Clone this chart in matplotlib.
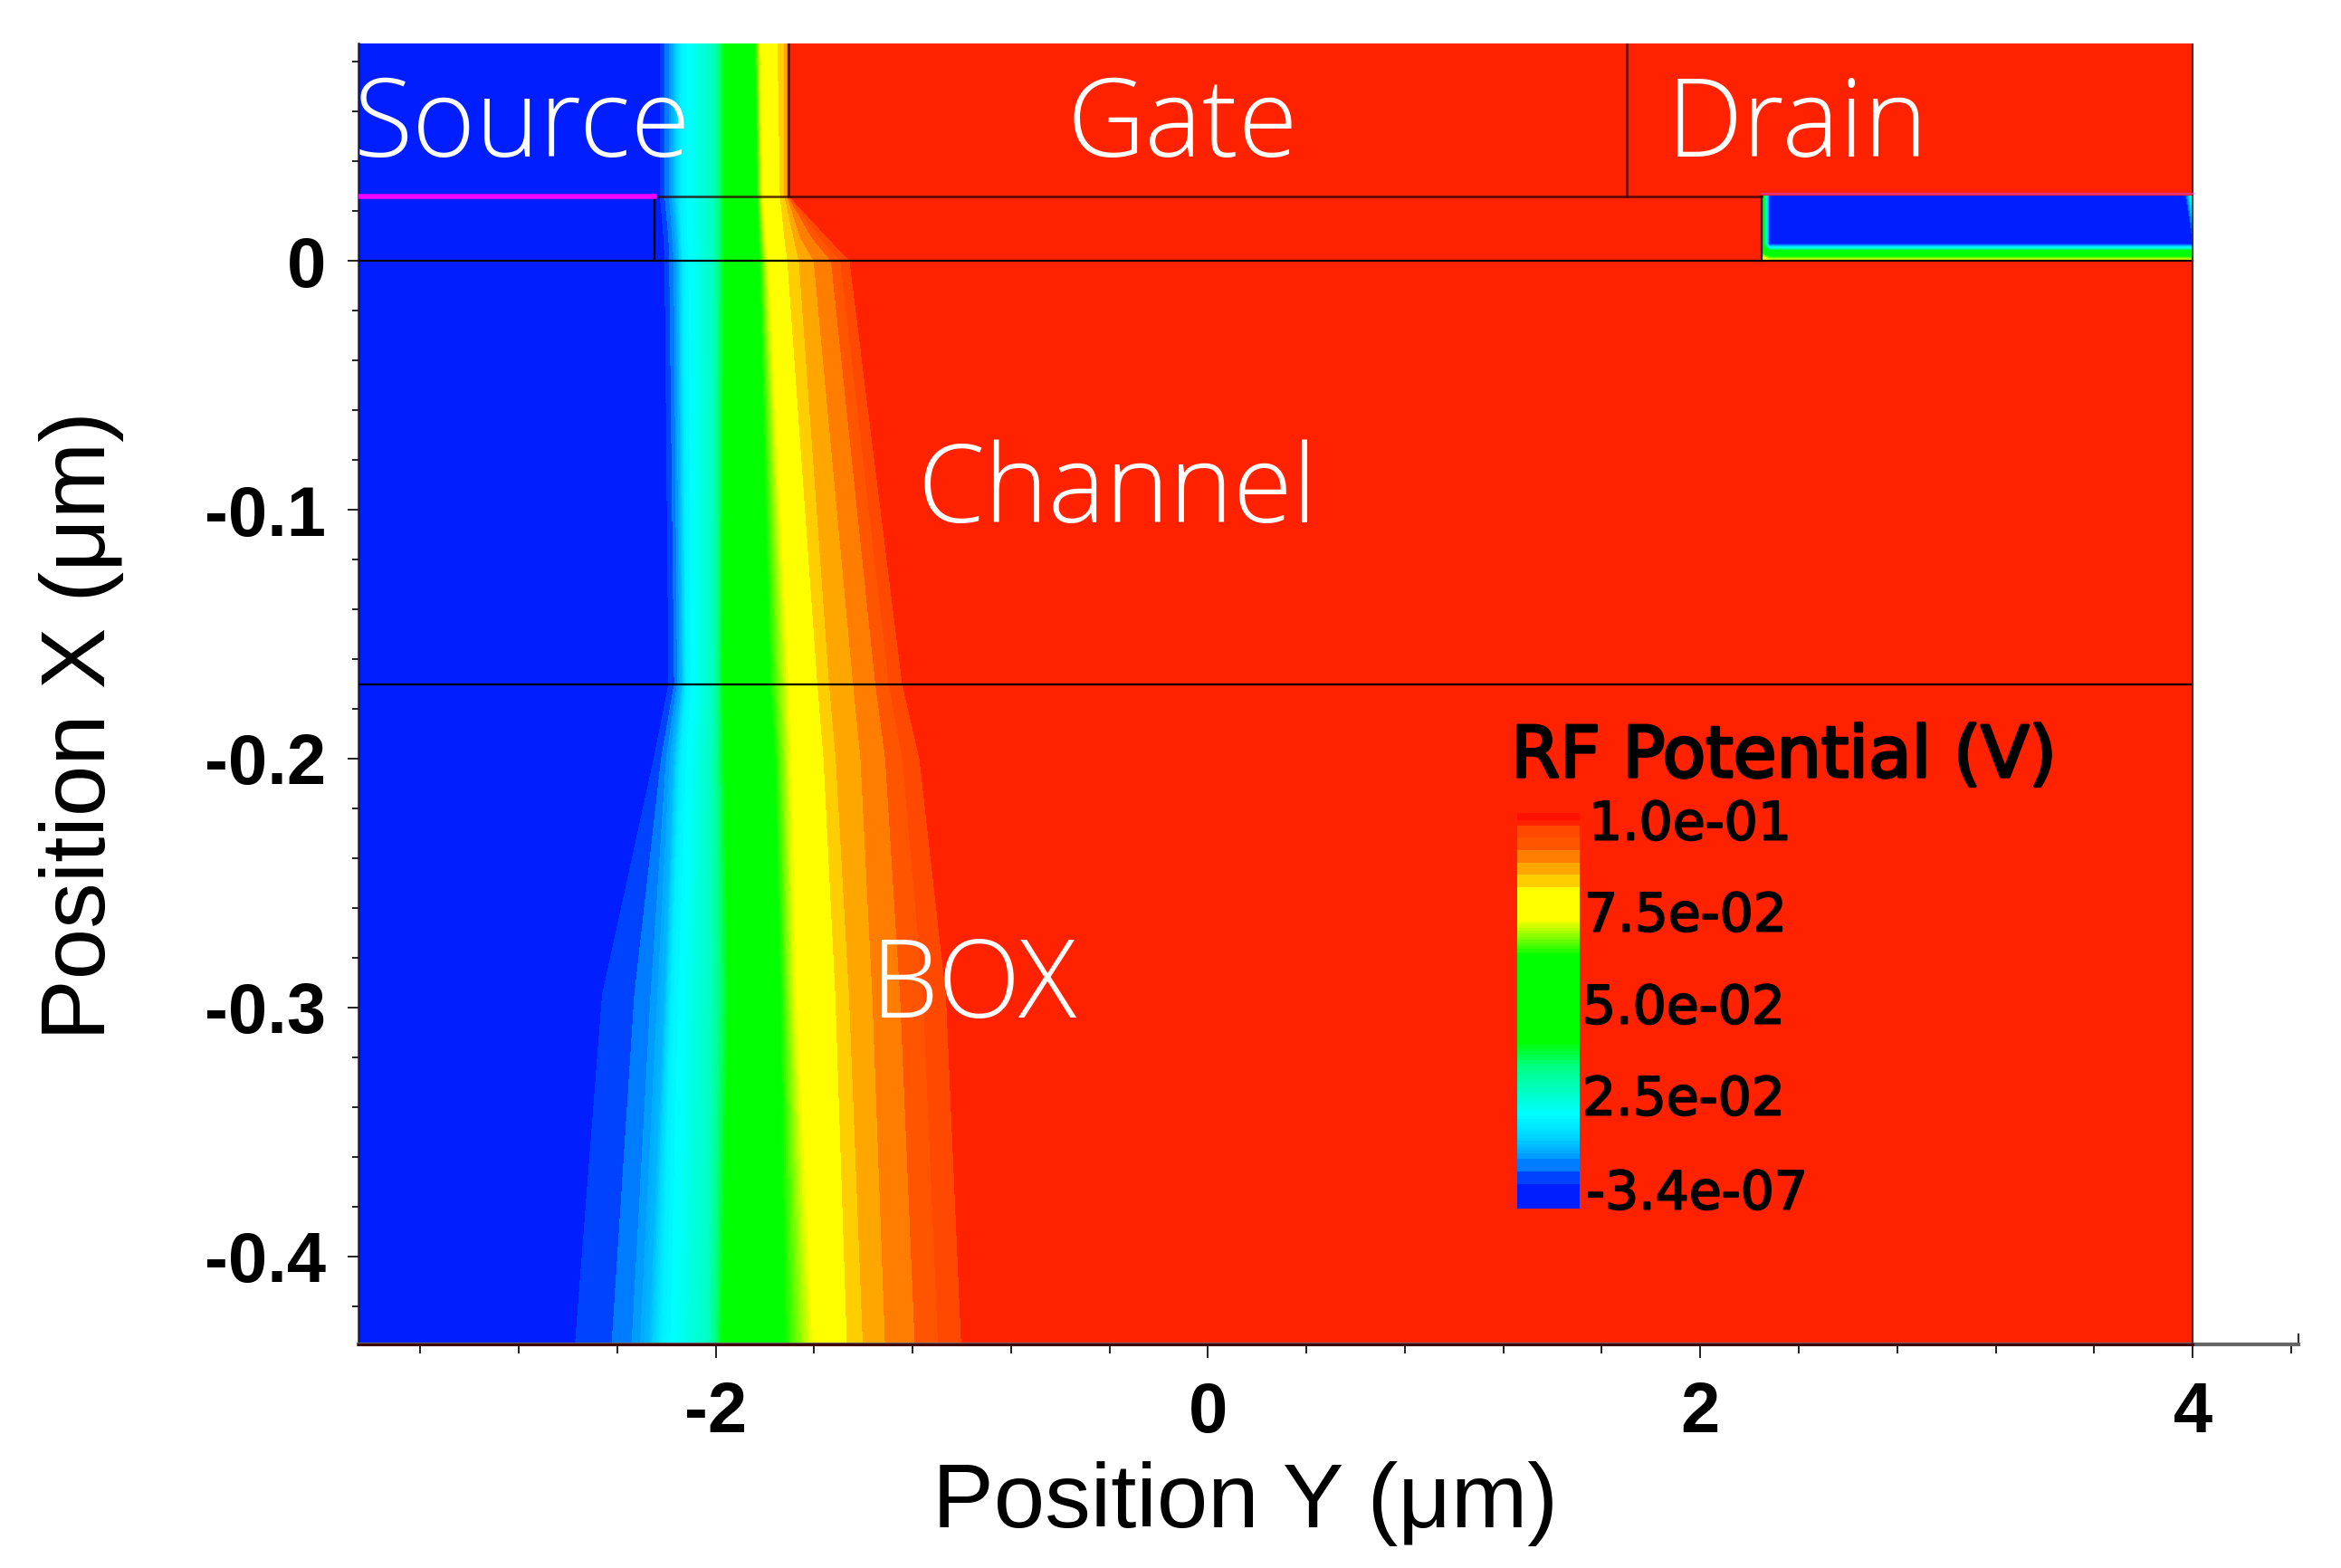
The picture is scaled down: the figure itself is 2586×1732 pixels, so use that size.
"""RF potential map of the transistor cross-section (banded contour plus annotations)."""
import numpy as np
import matplotlib
matplotlib.use("Agg")
import matplotlib.pyplot as plt
import matplotlib.patheffects as pe
from matplotlib.colors import LinearSegmentedColormap, ListedColormap, BoundaryNorm
from matplotlib.ticker import MultipleLocator

W, H = 2586, 1732

# normalised potential (0..1 = -3.4e-07..1.0e-01 V) of each isoline
iso_levels = [0.0625, 0.094, 0.125, 0.156, 0.22, 0.30, 0.42, 0.64, 0.72, 0.8125, 0.844, 0.875, 0.906, 0.969]

# depth of each row (um) and isoline positions along Y (um)
depths = [0.0873, 0.026, 0.009, 0.0, -0.17, -0.2, -0.295, -0.4353]
iso_top = [-2.225, -2.206, -2.188, -2.169, -2.141, -2.009, -1.962, -1.84, -1.82, -1.747, -1.719, -1.709, -1.705, -1.70]
iso_026 = [-2.225, -2.206, -2.188, -2.169, -2.141, -2.009, -1.962, -1.831, -1.812, -1.737, -1.719, -1.709, -1.705, -1.70]
iso_009 = [-2.21, -2.19, -2.175, -2.155, -2.135, -2.01, -1.962, -1.825, -1.80, -1.719, -1.681, -1.653, -1.606, -1.54]
iso_000 = [-2.206, -2.187, -2.169, -2.15, -2.13, -2.01, -1.962, -1.822, -1.79, -1.707, -1.66, -1.60, -1.53, -1.454]
iso_017 = [-2.19, -2.167, -2.155, -2.137, -2.118, -2.01, -1.967, -1.78, -1.71, -1.585, -1.537, -1.44, -1.35, -1.24]
iso_020 = [-2.25, -2.22, -2.20, -2.17, -2.14, -2.015, -1.96, -1.76, -1.70, -1.56, -1.51, -1.41, -1.31, -1.17]
iso_030 = [-2.46, -2.328, -2.263, -2.206, -2.178, -2.019, -1.944, -1.737, -1.681, -1.512, -1.456, -1.362, -1.25, -1.062]
iso_bot = [-2.57, -2.42, -2.34, -2.27, -2.215, -2.03, -1.97, -1.72, -1.615, -1.465, -1.40, -1.31, -1.19, -1.00]

# drain depletion pocket
drain_y = [0.026, 0.0068, 0.0052, 0.0036, 0.002, 0.0]
drain_x = [2.25, 2.28, 3.97, 4.0]
drain_z = [
    [0.55, 0.04, 0.04, 0.30],
    [0.55, 0.04, 0.04, 0.04],
    [0.55, 0.24, 0.24, 0.24],
    [0.60, 0.50, 0.50, 0.50],
    [0.70, 0.62, 0.62, 0.62],
    [0.78, 0.74, 0.74, 0.74],
]

# colour table
cmap_pos = [0.0, 0.06, 0.08, 0.11, 0.14, 0.18, 0.24, 0.30, 0.36, 0.42, 0.64, 0.70, 0.73, 0.81,
            0.828, 0.859, 0.89, 0.92, 0.953, 0.984, 1.0]
cmap_col = ["#001EFF", "#001EFF", "#0046FF", "#007DFF", "#00AAFF", "#00D5FF", "#00FFFF", "#00FFC0",
            "#00FF80", "#00FF00", "#00FF00", "#AAFF00", "#FFFF00", "#FFFF00",
            "#FFD000", "#FFAA00", "#FF8000", "#FF5500", "#FF4C00", "#FF2200", "#FF2200"]
n_bands = 32

legend_labels = ["1.0e-01", "7.5e-02", "5.0e-02", "2.5e-02", "-3.4e-07"]
legend_pix_y = [911, 1012, 1114, 1215, 1319]
legend_pix_x = [1755, 1750, 1748, 1748, 1752]

region_names = ["Source", "Gate", "Drain", "Channel", "BOX"]
region_x = [-3.47, -0.574, 1.863, -1.18, -1.37]
region_y = [0.0418, 0.0418, 0.0418, -0.105, -0.304]

base_cmap = LinearSegmentedColormap.from_list("rf", list(zip(cmap_pos, cmap_col)), N=512)
# uniform bands, finer where the reference blends smoothly
coarse = np.linspace(0, 1, n_bands + 1)
fine = np.concatenate([np.arange(0.14, 0.42, 1 / 128), np.arange(0.64, 0.73, 1 / 128)])
bounds = np.unique(np.round(np.concatenate([coarse, fine]), 5))
band_mid = (bounds[:-1] + bounds[1:]) / 2
band_colors = base_cmap(band_mid)
cmap = ListedColormap(band_colors)
norm = BoundaryNorm(bounds, cmap.N)

fig = plt.figure(figsize=(W / 100, H / 100), dpi=100, facecolor="white")
left, right, top, bottom = 396, 2539, 48, 1485
ax = fig.add_axes([left / W, 1 - bottom / H, (right - left) / W, (bottom - top) / H])
ax.set_xlim(-3.451, 4.43)
ax.set_ylim(-0.4353, 0.0873)

# banded field: one column per isoline, so contourf gets a curvilinear grid
rows = [iso_top, iso_026, iso_009, iso_000, iso_017, iso_020, iso_030, iso_bot]
X = np.column_stack([np.full(len(rows), -3.451), np.array(rows), np.full(len(rows), 4.0)])
Y = np.tile(np.array(depths)[:, None], (1, X.shape[1]))
Z = np.tile(np.array([0.0] + iso_levels + [1.0]), (len(rows), 1))
ax.contourf(X, Y, Z, levels=bounds, cmap=cmap, norm=norm, zorder=1)
ax.contourf(drain_x, drain_y, drain_z, levels=bounds, cmap=cmap, norm=norm, zorder=2)

# device outline
line_kw = dict(color="black", lw=1.6, zorder=3)
ax.plot([-3.451, 4.0], [0, 0], **line_kw)
ax.plot([-3.451, 4.0], [-0.17, -0.17], **line_kw)
ax.plot([-2.25, 2.25], [0.026, 0.026], color="#300000", lw=1.8, alpha=0.8, zorder=3)
ax.plot([-2.25, -2.25], [0, 0.026], **line_kw)
ax.plot([2.25, 2.25], [0, 0.026], **line_kw)
ax.plot([-1.705, -1.705], [0.026, 0.0873], color="#300000", lw=1.8, alpha=0.8, zorder=3)
ax.plot([1.70, 1.70], [0.026, 0.0873], color="#300000", lw=1.8, alpha=0.8, zorder=3)
ax.plot([4.0, 4.0], [-0.4353, 0.0873], color="#333333", lw=1.6, zorder=3)
ax.plot([-3.451, -2.25], [0.026, 0.026], color="#F000FF", lw=4, zorder=4)
ax.plot([2.25, 4.0], [0.0268, 0.0268], color="#E0308C", lw=1.6, zorder=4)

# axes and ticks
for side in ("top", "right"):
    ax.spines[side].set_visible(False)
ax.spines["left"].set_color("#1a1a50")
ax.spines["left"].set_linewidth(1.8)
ax.spines["bottom"].set_color("#666666")
ax.spines["bottom"].set_linewidth(3)
ax.plot([-3.451, 4.0], [-0.4353, -0.4353], color="#400000", lw=2.2, zorder=5, clip_on=False)
ax.plot([4.43, 4.43], [-0.4353, -0.4313], color="#333333", lw=1.6, clip_on=False)

ax.xaxis.set_major_locator(MultipleLocator(2))
ax.xaxis.set_minor_locator(MultipleLocator(0.4))
ax.yaxis.set_major_locator(MultipleLocator(0.1))
ax.yaxis.set_minor_locator(MultipleLocator(0.02))
ax.tick_params(axis="x", which="major", length=10.8, width=1.4, color="#222222", pad=18)
ax.tick_params(axis="x", which="minor", length=7.5, width=1.4, color="#222222")
ax.tick_params(axis="y", which="major", length=8.6, width=1.4, color="#222222", pad=17)
ax.tick_params(axis="y", which="minor", length=5, width=1.4, color="#222222")
ax.set_xticks([-2, 0, 2, 4])
ax.set_xticklabels(["-2", "0", "2", "4"], family="Liberation Sans", weight="bold", size=56)
ax.set_yticks([0, -0.1, -0.2, -0.3, -0.4])
ax.set_yticklabels(["0", "-0.1", "-0.2", "-0.3", "-0.4"], family="Liberation Sans", weight="bold", size=56)

fig.text(1375 / W, 1 - 1687 / H, "Position Y (\u03bcm)", family="Liberation Sans", size=73,
         ha="center", va="baseline")
fig.text(137 / W, 1 - 802 / H, "Position X (\u03bcm)", family="Liberation Sans", size=73,
         rotation=90, ha="right", va="center")

# white labels pasted over the field
for name, nx, ny in zip(region_names, region_x, region_y):
    ax.text(nx, ny, name, color="white", family="Open Sans", weight="light", size=86,
            ha="left", va="baseline", zorder=6)

# colour legend
bar_ax = fig.add_axes([1676 / W, 1 - 1335 / H, 69 / W, 437 / H])
bar_ax.pcolormesh([0, 1], bounds, band_mid[:, None], cmap=cmap, norm=norm)
bar_ax.axis("off")
bar_ax.axhspan(0.985, 1.0, color="#FF1000")

stroke = [pe.withStroke(linewidth=1.4, foreground="black")]
fig.text(1669 / W, 1 - 858 / H, "RF Potential (V)", family="DejaVu Sans", size=56, color="black",
         ha="left", va="baseline", path_effects=[pe.withStroke(linewidth=2.4, foreground="black")])
for label, px, py in zip(legend_labels, legend_pix_x, legend_pix_y):
    fig.text(px / W, 1 - py / H, label, family="DejaVu Sans", size=42, color="black",
             ha="left", va="center", path_effects=stroke)

fig.savefig("out.png", dpi=100)
plt.close(fig)
